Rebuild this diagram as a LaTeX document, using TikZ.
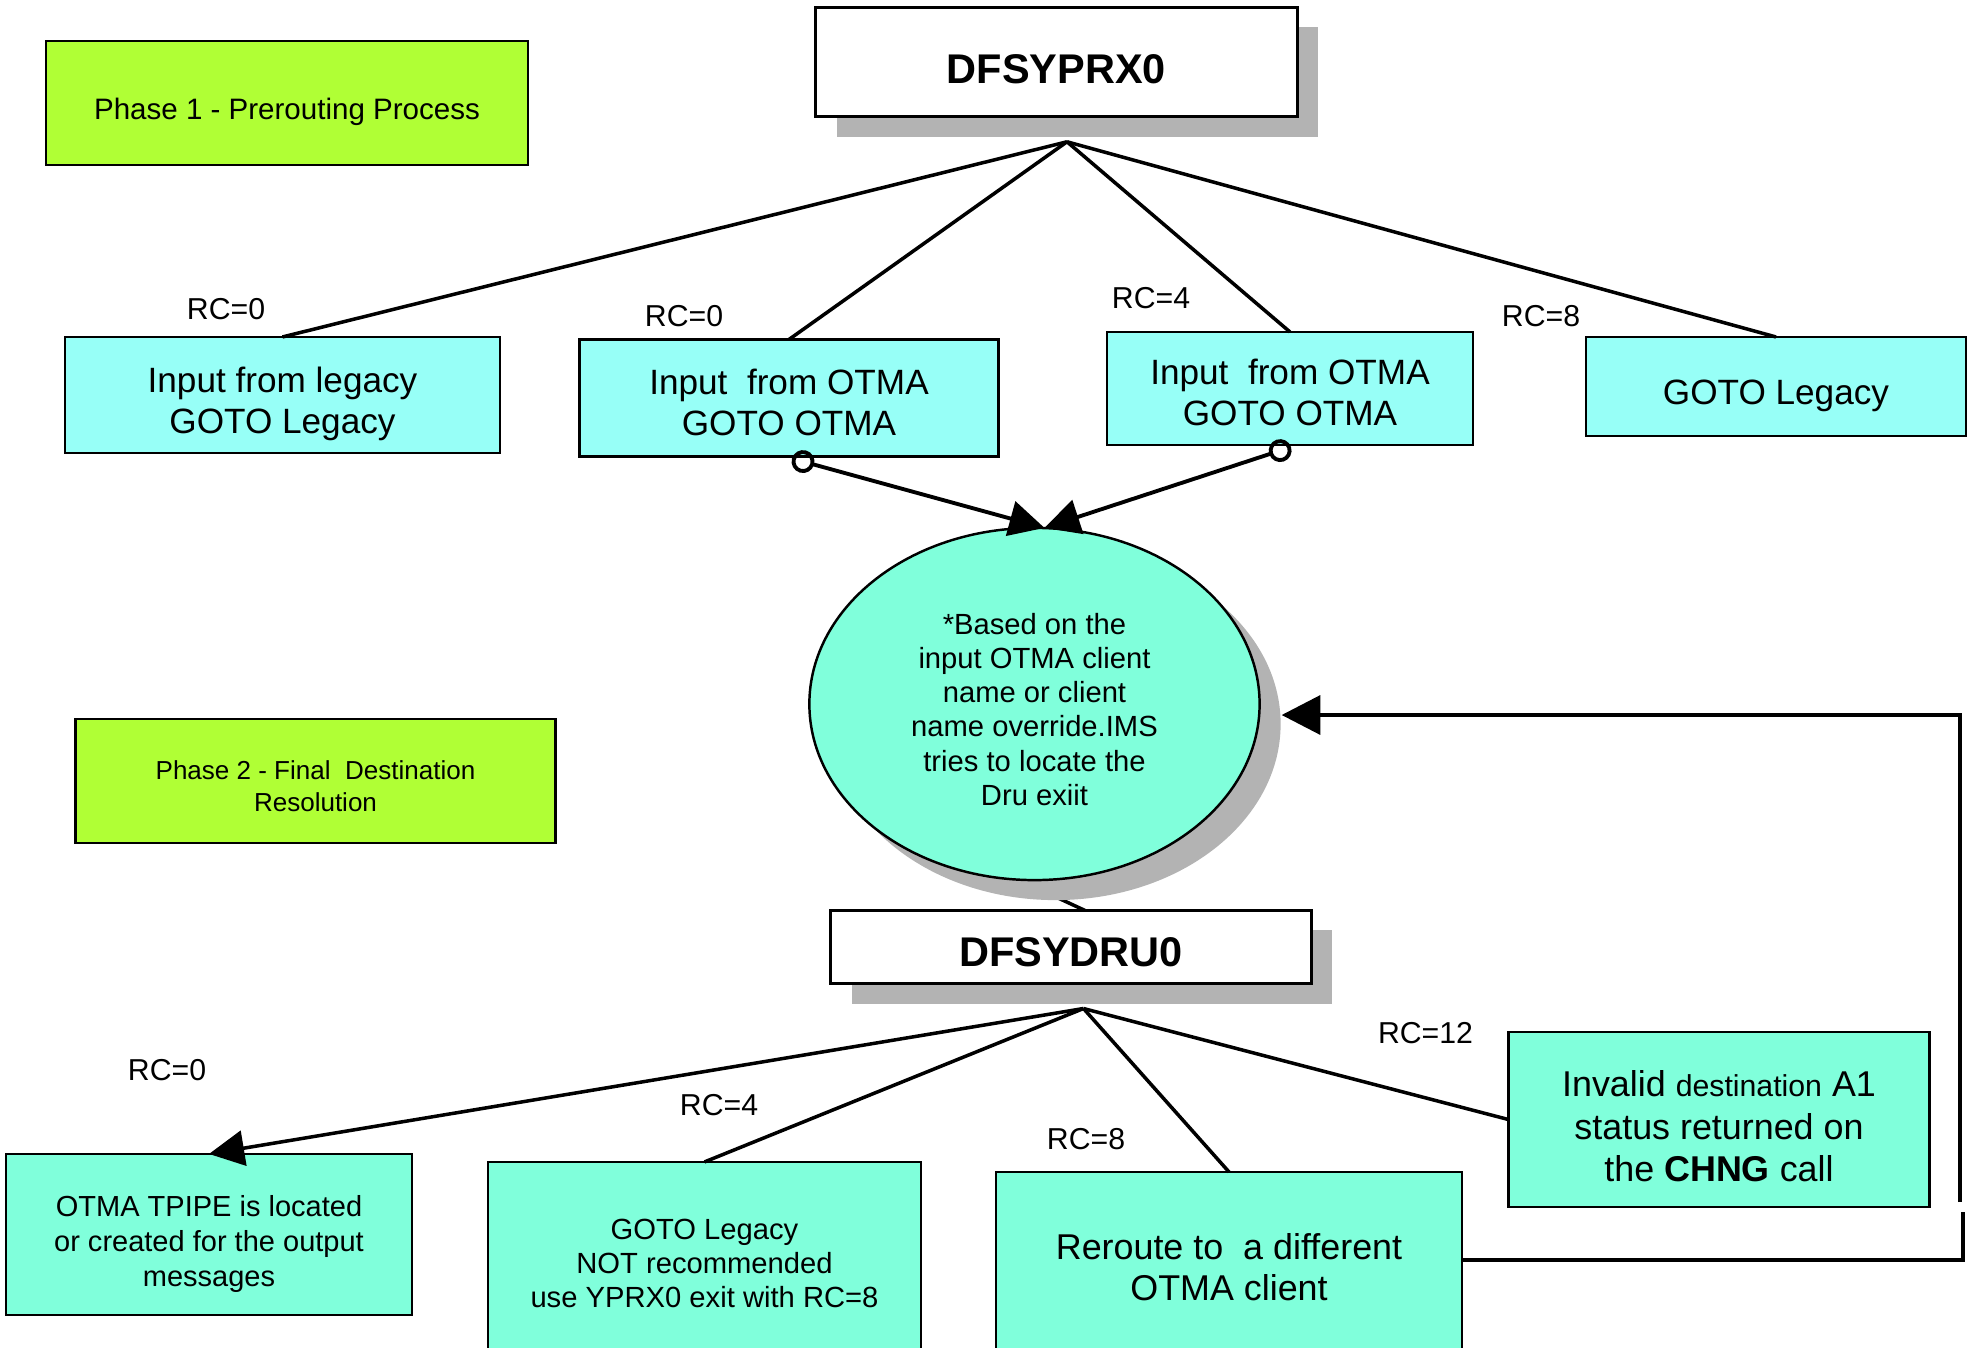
\documentclass[tikz,border=0pt]{standalone}
\usepackage{fontspec}
\setmainfont{Liberation Sans}
\usetikzlibrary{calc,shadows,shapes.geometric,arrows.meta,backgrounds}

\definecolor{phasegreen}{HTML}{B0FF35}
\definecolor{choicecyan}{HTML}{97FFF7}
\definecolor{outcomeaqua}{HTML}{80FFDB}
\definecolor{shadowgray}{HTML}{B3B3B3}

% push the first line down a little (strut on the first line)
\newcommand\textsink[1]{\rule{0pt}{\dimexpr\fontcharht\font`f+#1*2\relax}}

\begin{document}
\begin{tikzpicture}[x=0.01cm,y=-0.01cm,
  sink/.style={execute at begin node={\textsink{#1}}},
  phase/.style={draw,line width=0.7pt,fill=phasegreen,align=center,inner sep=0pt,outer sep=0pt},
  exitbox/.style={draw,line width=0.8pt,fill=white,inner sep=0pt,outer sep=0pt,font=\fontsize{11.8}{14}\selectfont\bfseries,drop shadow={shadow xshift=0.21cm,shadow yshift=-0.2cm,fill=shadowgray,opacity=1}},
  choice/.style={draw,line width=0.7pt,fill=choicecyan,align=center,inner sep=0pt,outer sep=0pt,font=\fontsize{10}{11.6}\selectfont},
  outcome/.style={draw,line width=0.7pt,fill=outcomeaqua,align=center,inner sep=0pt,outer sep=0pt},
  decision/.style={draw,ellipse,line width=0.7pt,fill=outcomeaqua,align=center,inner sep=0pt,outer sep=0pt,font=\fontsize{8.3}{9.7}\selectfont,drop shadow={shadow xshift=0.21cm,shadow yshift=-0.2cm,fill=shadowgray,opacity=1}},
  rc/.style={font=\fontsize{8.6}{10}\selectfont},
  link/.style={line width=1pt},
  arrow/.style={-{Triangle[length=10pt,width=10pt]},line width=1pt},
  hookup/.style={{Circle[open,length=6.5pt,width=6.5pt]}-{Triangle[length=10pt,width=10pt]},line width=1.1pt},
  loop/.style={line width=1.3pt}]
  \useasboundingbox (0,0) rectangle (1971,1348);

  % phase 1
  \node[phase,sink=2.8pt,minimum width=4.815cm,minimum height=1.235cm,font=\fontsize{8.4}{10}\selectfont] (phase1) at (287,103) {Phase 1 - Prerouting Process};
  \node[exitbox,sink=2pt,minimum width=4.81cm,minimum height=1.095cm] (prx) at (1056.5,62) {DFSYPRX0};
  \coordinate (prxfork) at ($ (prx.south) + (10.5,25) $);

  \node[choice,minimum width=4.35cm,minimum height=1.16cm] (inlegacy) at (282.5,395) {\textsink{2.8pt}Input from legacy\\GOTO Legacy};
  \node[choice,minimum width=4.185cm,minimum height=1.17cm] (inotmaA) at (789,398) {\textsink{1.5pt}Input~ from OTMA\\GOTO OTMA};
  \node[choice,minimum width=3.66cm,minimum height=1.13cm] (inotmaB) at (1290,388.5) {\textsink{1.4pt}Input~ from OTMA\\GOTO OTMA};
  \node[choice,sink=2.6pt,minimum width=3.80cm,minimum height=0.99cm] (gotolegacy) at (1776,386.5) {GOTO Legacy};

  \node[rc] (rcA) at (226,309) {RC=0};
  \node[rc] (rcB) at (684,316) {RC=0};
  \node[rc] (rcC) at (1151,298) {RC=4};
  \node[rc] (rcD) at (1541,316) {RC=8};

  \draw[link] (prxfork) -- (inlegacy.north);
  \draw[link] (prxfork) -- (inotmaA.north);
  \draw[link] (prxfork) -- (inotmaB.north);
  \draw[link] (prxfork) -- (gotolegacy.north);

  % phase 2
  \node[decision,minimum width=4.5cm,minimum height=3.52cm] (locate) at (1034.5,704) {\textsink{1.7pt}*Based on the\\input OTMA client\\name or client\\name override.IMS\\tries to locate the\\Dru exiit};
  \draw[hookup] ([xshift=0.03cm,yshift=-0.02cm]inotmaA.south) -- ([xshift=0.1cm]locate.north);
  \draw[hookup] ([xshift=0.01cm,yshift=-0.02cm]inotmaB.south) -- ([xshift=0.1cm]locate.north);

  \node[phase,minimum width=4.80cm,minimum height=1.235cm,font=\fontsize{7.4}{9}\selectfont] (phase2) at (315.5,781) {\textsink{1.7pt}Phase 2 - Final~ Destination\\Resolution};
  \node[exitbox,sink=1.4pt,minimum width=4.80cm,minimum height=0.73cm] (dru) at (1071,947) {DFSYDRU0};
  \coordinate (drufork) at ($ (dru.south) + (12.5,25) $);
  \begin{scope}[on background layer]
    \draw[link] ([xshift=-0.15cm]locate.south) -- ([xshift=0.14cm]dru.north);
  \end{scope}

  \node[outcome,minimum width=4.06cm,minimum height=1.61cm,font=\fontsize{8.25}{10}\selectfont] (tpipe) at (209,1234.5) {\textsink{2.8pt}OTMA TPIPE is located\\or created for the output\\messages};
  \node[outcome,minimum width=4.33cm,minimum height=2.03cm,font=\fontsize{8.3}{9.7}\selectfont] (legacy) at (704.5,1263.5) {GOTO Legacy\\NOT recommended\\use YPRX0 exit with RC=8};
  \node[outcome,minimum width=4.66cm,minimum height=1.90cm,font=\fontsize{10.2}{11.8}\selectfont] (reroute) at (1229,1267) {Reroute to~ a different\\OTMA client};
  \node[outcome,minimum width=4.21cm,minimum height=1.75cm,font=\fontsize{10.2}{12}\selectfont] (invalid) at (1719,1119.5) {\textsink{2.1pt}Invalid {\fontsize{8.6}{12}\selectfont destination} A1\\status returned on\\the \textbf{CHNG} call};

  \node[rc] (rc0) at (167,1070) {RC=0};
  \node[rc] (rc4) at (719,1105) {RC=4};
  \node[rc] (rc8) at (1086,1139) {RC=8};
  \node[rc] (rc12) at (1425.5,1033.5) {RC=12};

  \draw[arrow] (drufork) -- (tpipe.north);
  \draw[link] (drufork) -- (legacy.north);
  \draw[link] (drufork) -- (reroute.north);
  \draw[link] (drufork) -- (invalid.west);

  % back to the locate step
  \coordinate (loopbot) at (1963,1212);
  \coordinate (looptop) at (1960,1202);
  \draw[loop] ([yshift=0.07cm]reroute.east) -| (loopbot);
  \draw[loop,-{Triangle[length=11pt,width=11pt]}] (looptop) |- ([xshift=0.22cm,yshift=-0.11cm]locate.east);
\end{tikzpicture}
\end{document}
